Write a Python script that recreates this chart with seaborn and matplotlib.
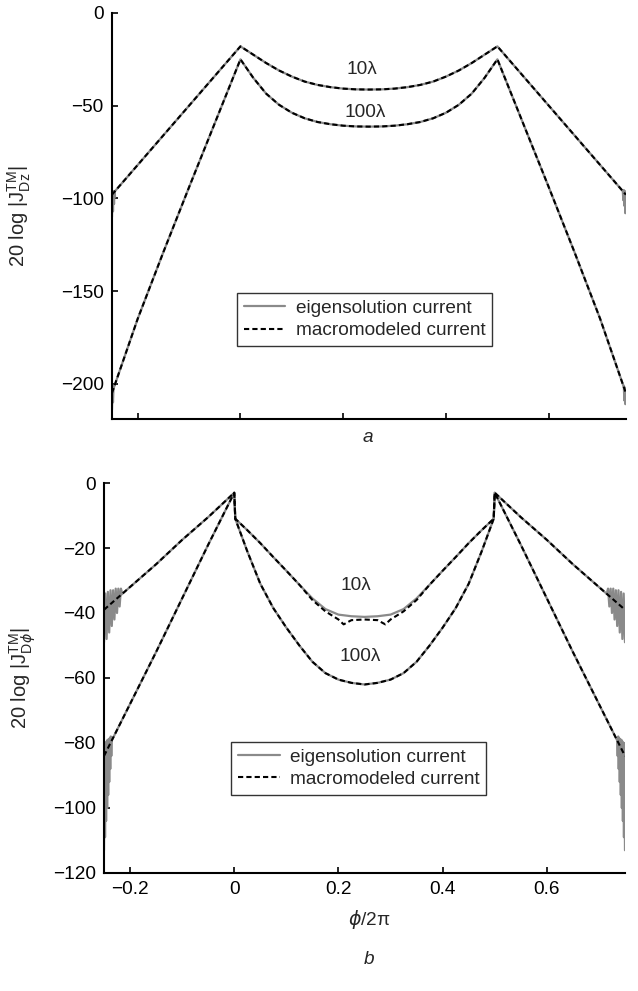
import matplotlib
matplotlib.use("Agg")
import matplotlib.pyplot as plt
import seaborn as sns

## values (phi/2pi on x, dB on y)

# panel a : shared x for the smooth parts
x_a = [-0.25, -0.2, -0.15, -0.1, -0.05, 0.0, 0.025, 0.05, 0.075, 0.1, 0.125,
       0.15, 0.175, 0.2, 0.225, 0.25, 0.275, 0.3, 0.325, 0.35, 0.375, 0.4,
       0.425, 0.45, 0.475, 0.5, 0.55, 0.6, 0.65, 0.7, 0.75]
a_10 = [-98, -82, -66, -50, -34, -18, -22.5, -27, -31, -34.3, -37, -38.8, -40,
        -40.8, -41.2, -41.3, -41.2, -40.8, -40, -38.8, -37, -34.3, -31, -27,
        -22.5, -18, -34, -50, -66, -82, -98]
a_100 = [-205, -165, -129, -94, -59.5, -25, -35, -43.5, -49.5, -53.8, -56.8,
         -58.8, -60, -60.8, -61.2, -61.3, -61.2, -60.8, -60, -58.8, -56.8,
         -53.8, -49.5, -43.5, -35, -25, -59.5, -94, -129, -165, -205]

# panel a : ripple of the eigensolution at the ends
a_10_edge_l_x = [-0.25, -0.249, -0.248, -0.247, -0.246, -0.245, -0.244]
a_10_edge_l = [-110, -96, -107, -96.5, -103, -96, -99]
a_10_edge_r_x = [0.744, 0.745, 0.746, 0.747, 0.748, 0.749, 0.75]
a_10_edge_r = [-96, -101, -95.5, -104, -96, -108, -97]
a_100_edge_l_x = [-0.25, -0.249, -0.248, -0.247, -0.246]
a_100_edge_l = [-214, -203, -210, -202, -201]
a_100_edge_r_x = [0.746, 0.747, 0.748, 0.749, 0.75]
a_100_edge_r = [-201, -209, -202, -211, -205]

# panel b : eigensolution
x_b = [-0.25, -0.2, -0.15, -0.1, -0.05, 0.0, 0.002, 0.025, 0.05, 0.075, 0.1,
       0.125, 0.15, 0.175, 0.2, 0.225, 0.25, 0.275, 0.3, 0.325, 0.35, 0.375,
       0.4, 0.425, 0.45, 0.475, 0.498, 0.5, 0.55, 0.6, 0.65, 0.7, 0.75]
b_10 = [-39, -32, -25, -17.5, -10.5, -3, -11, -14.5, -18.5, -22.8, -27, -31.3,
        -35.5, -38.8, -40.5, -41, -41.2, -41, -40.5, -38.8, -35.5, -31.3, -27,
        -22.8, -18.5, -14.5, -11, -3, -10.5, -17.5, -25, -32, -39]
b_100 = [-84, -68, -52, -35.5, -19, -3, -11, -21, -31, -38.5, -44.5, -50, -55,
         -58.5, -60.5, -61.5, -62, -61.5, -60.5, -58.5, -55, -50, -44.5, -38.5,
         -31, -21, -11, -3, -19, -35.5, -52, -68, -84]

# panel b : macromodel 10 lambda (differs near the bottom of the dip)
x_b10m = [-0.25, -0.2, -0.15, -0.1, -0.05, 0.0, 0.002, 0.025, 0.05, 0.075,
          0.1, 0.125, 0.15, 0.175, 0.2, 0.21, 0.225, 0.25, 0.275, 0.29, 0.3,
          0.325, 0.35, 0.375, 0.4, 0.425, 0.45, 0.475, 0.498, 0.5, 0.55, 0.6,
          0.65, 0.7, 0.75]
b_10m = [-39, -32, -25, -17.5, -10.5, -3, -11, -14.5, -18.5, -22.8, -27, -31.3,
         -36, -39.5, -42, -43.5, -42.2, -42, -42.2, -43.5, -42, -39.5, -36,
         -31.3, -27, -22.8, -18.5, -14.5, -11, -3, -10.5, -17.5, -25, -32, -39]

# panel b : ripple of the eigensolution at the ends
b_10_edge_l_x = [-0.25, -0.2475, -0.245, -0.2425, -0.24, -0.2375, -0.235,
                 -0.2325, -0.23, -0.2275, -0.225, -0.2225, -0.22, -0.2175, -0.215]
b_10_edge_l = [-49, -34, -48, -33.5, -46, -33, -44, -33, -42, -32.5, -40,
               -32.5, -38, -32.5, -34]
b_10_edge_r_x = [0.715, 0.7175, 0.72, 0.7225, 0.725, 0.7275, 0.73, 0.7325,
                 0.735, 0.7375, 0.74, 0.7425, 0.745, 0.7475, 0.75]
b_10_edge_r = [-34, -32.5, -38, -32.5, -40, -32.5, -42, -33, -44, -33, -46,
               -33.5, -48, -34, -49]
b_100_edge_l_x = [-0.25, -0.249, -0.248, -0.247, -0.246, -0.245, -0.244,
                  -0.243, -0.242, -0.241, -0.24, -0.239, -0.238, -0.237,
                  -0.236, -0.235]
b_100_edge_l = [-113, -80, -109, -80, -104, -79.5, -100, -79, -96, -79, -92,
                -78.5, -88, -78, -84, -79]
b_100_edge_r_x = [0.735, 0.736, 0.737, 0.738, 0.739, 0.74, 0.741, 0.742,
                  0.743, 0.744, 0.745, 0.746, 0.747, 0.748, 0.749, 0.75]
b_100_edge_r = [-79, -84, -78, -88, -78.5, -92, -79, -96, -79, -100, -79.5,
                -104, -80, -109, -80, -113]

x_ticks = [-0.2, 0, 0.2, 0.4, 0.6]
a_yticks = [0, -50, -100, -150, -200]
b_yticks = [0, -20, -40, -60, -80, -100, -120]

sns.set_style("ticks")
plt.rcParams["font.family"] = ["Liberation Sans", "DejaVu Sans"]
plt.rcParams["font.size"] = 13.7
plt.rcParams["mathtext.fontset"] = "dejavusans"

fs = 13.7
gray = "#8a8a8a"
dash = (0, (2.5, 1.5))

fig = plt.figure(figsize=(6.38, 9.91), dpi=100)
ax1 = fig.add_axes([0.1755, 0.5772, 0.8055, 0.4097])
ax2 = fig.add_axes([0.163, 0.1191, 0.8166, 0.3935])


def draw(ax, x, y, eig, label=None):
    if eig:
        sns.lineplot(x=x, y=y, ax=ax, color=gray, lw=1.6, sort=False,
                     estimator=None, label=label)
    else:
        sns.lineplot(x=x, y=y, ax=ax, color="black", lw=1.5, linestyle=dash,
                     sort=False, estimator=None, label=label)


## panel a
draw(ax1, x_a, a_10, True, "eigensolution current")
draw(ax1, x_a, a_100, True)
draw(ax1, a_10_edge_l_x, a_10_edge_l, True)
draw(ax1, a_10_edge_r_x, a_10_edge_r, True)
draw(ax1, a_100_edge_l_x, a_100_edge_l, True)
draw(ax1, a_100_edge_r_x, a_100_edge_r, True)
draw(ax1, x_a, a_10, False, "macromodeled current")
draw(ax1, x_a, a_100, False)

## panel b
draw(ax2, x_b, b_10, True, "eigensolution current")
draw(ax2, x_b, b_100, True)
draw(ax2, b_10_edge_l_x, b_10_edge_l, True)
draw(ax2, b_10_edge_r_x, b_10_edge_r, True)
draw(ax2, b_100_edge_l_x, b_100_edge_l, True)
draw(ax2, b_100_edge_r_x, b_100_edge_r, True)
draw(ax2, x_b10m, b_10m, False, "macromodeled current")
draw(ax2, x_b, b_100, False)

for ax in (ax1, ax2):
    ax.set_xlim(-0.25, 0.75)
    ax.set_xticks(x_ticks)
    for s in ("top", "right"):
        ax.spines[s].set_visible(False)
    for s in ("left", "bottom"):
        ax.spines[s].set_linewidth(1.5)
        ax.spines[s].set_color("black")
    ax.tick_params(direction="in", length=4, width=1.2, pad=6,
                   labelsize=fs, colors="black")

ax1.set_ylim(-219, 0)
ax1.set_yticks(a_yticks)
ax1.set_xticklabels([])
ax1.set_xlabel("")
ax1.set_ylabel(r"20 log |$\mathregular{J_{Dz}^{TM}}$|", fontsize=14.5)
ax1.yaxis.set_label_coords(-0.154, 0.5)
ax1.text(0.237, -30.7, "10λ", ha="center", va="center", fontsize=fs)
ax1.text(0.243, -53.9, "100λ", ha="center", va="center", fontsize=fs)

ax2.set_ylim(-120, 0)
ax2.set_yticks(b_yticks)
ax2.set_xticklabels(["\u22120.2", "0", "0.2", "0.4", "0.6"])
ax2.set_ylabel(r"20 log |$\mathregular{J}_{\mathregular{D}\phi}^{\mathregular{TM}}$|",
               fontsize=14.5)
ax2.yaxis.set_label_coords(-0.127, 0.5)
ax2.set_xlabel(r"$\phi$/2π", fontsize=fs)
ax2.xaxis.set_label_coords(0.509, -0.09)
ax2.text(0.234, -31.4, "10λ", ha="center", va="center", fontsize=fs)
ax2.text(0.241, -53.5, "100λ", ha="center", va="center", fontsize=fs)

for ax, anchor in ((ax1, (0.243, 0.310)), (ax2, (0.244, 0.336))):
    leg = ax.legend(loc="upper left", bbox_to_anchor=anchor, borderaxespad=0,
                    fontsize=fs, handlelength=2.2, handletextpad=0.55,
                    labelspacing=0.25, borderpad=0.35, fancybox=False,
                    framealpha=1)
    leg.get_frame().set_edgecolor("#333333")
    leg.get_frame().set_linewidth(1.0)

fig.text(368 / 638, 1 - 437 / 991, "a", style="italic", ha="center",
         va="center", fontsize=fs)
fig.text(369 / 638, 1 - 960 / 991, "b", style="italic", ha="center",
         va="center", fontsize=fs)

plt.savefig("out.png", dpi=100)
